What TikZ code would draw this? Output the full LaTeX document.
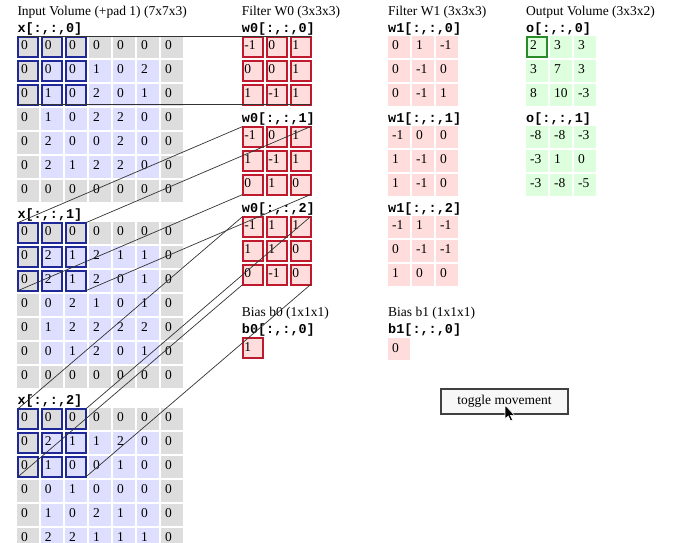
\documentclass[tikz,border=0pt]{standalone}
\usepackage{fontspec}
\setmainfont{Liberation Serif}
\setmonofont{Liberation Mono}
\newcommand\cvfs{\fontsize{13.5}{16}\selectfont}
\newcommand\cvlbl{\ttfamily\bfseries\fontsize{13.5}{16}\selectfont}
\definecolor{padgray}{RGB}{221,221,221}
\definecolor{inlav}{RGB}{222,222,255}
\definecolor{winblue}{RGB}{30,40,150}
\definecolor{wpink}{RGB}{255,221,221}
\definecolor{wred}{RGB}{190,25,45}
\definecolor{ogreen}{RGB}{221,255,221}
\definecolor{obord}{RGB}{40,140,40}
\begin{document}
\begin{tikzpicture}[x=1pt,y=-1pt,
  cellA/.style={rectangle, inner sep=0pt, outer sep=0pt, minimum size=22pt, draw=none},
  cellB/.style={rectangle, inner sep=0pt, outer sep=0pt, minimum size=20pt, line width=2pt},
  num/.style={anchor=base west, inner sep=0pt, font=\cvfs},
  lab/.style={anchor=base west, inner sep=0pt, font=\cvlbl},
  ttl/.style={anchor=base west, inner sep=0pt, font=\cvfs},
  conn/.style={draw=black!80, line width=0.7pt}]
\useasboundingbox (0,0) rectangle (686,542);
\clip (0,0) rectangle (686,542);
\fill[white] (0,0) rectangle (686,542);

% titles
\node[ttl] (tin) at (17.3,15) {Input Volume (+pad 1) (7x7x3)};
\node[ttl] (tw0) at (241.7,15) {Filter W0 (3x3x3)};
\node[ttl] (tw1) at (388,15) {Filter W1 (3x3x3)};
\node[ttl] (tout) at (526,15) {Output Volume (3x3x2)};

% input labels
\node[lab] (lx0) at (17.3,32) {x[:,:,0]};
\node[lab] (lx1) at (17.3,218) {x[:,:,1]};
\node[lab] (lx2) at (17.3,404) {x[:,:,2]};

% input volume
\foreach \k/\vals in {
 0/{0,0,0,0,0,0,0, 0,0,0,1,0,2,0, 0,1,0,2,0,1,0, 0,1,0,2,2,0,0, 0,2,0,0,2,0,0, 0,2,1,2,2,0,0, 0,0,0,0,0,0,0},
 1/{0,0,0,0,0,0,0, 0,2,1,2,1,1,0, 0,2,1,2,0,1,0, 0,0,2,1,0,1,0, 0,1,2,2,2,2,0, 0,0,1,2,0,1,0, 0,0,0,0,0,0,0},
 2/{0,0,0,0,0,0,0, 0,2,1,1,2,0,0, 0,1,0,0,1,0,0, 0,0,1,0,0,0,0, 0,1,0,2,1,0,0, 0,2,2,1,1,1,0, 0,0,0,0,0,0,0}}{
  \foreach \v [count=\i from 0] in \vals {
    \pgfmathtruncatemacro\r{\i/7}
    \pgfmathtruncatemacro\c{mod(\i,7)}
    \pgfmathtruncatemacro\pad{(\r==0)||(\r==6)||(\c==0)||(\c==6)}
    \pgfmathtruncatemacro\win{(\r<3)&&(\c<3)}
    \pgfmathsetmacro\cx{17.3+24*\c+11}
    \pgfmathsetmacro\cy{35.5+186*\k+24*\r+11}
    \ifnum\pad=1 \def\fc{padgray}\else\def\fc{inlav}\fi
    \ifnum\win=1
      \node[cellB, fill=\fc, draw=winblue] (x\k-\r-\c) at (\cx,\cy) {};
    \else
      \node[cellA, fill=\fc] (x\k-\r-\c) at (\cx,\cy) {};
    \fi
    \node[num] (xt\k-\r-\c) at (\cx-7.5,\cy+3) {\v};
  }
}

% filter W0
\node[lab] (lw00) at (241.7,32) {w0[:,:,0]};
\node[lab] (lw01) at (241.7,122) {w0[:,:,1]};
\node[lab] (lw02) at (241.7,212) {w0[:,:,2]};
\foreach \k/\vals in {0/{-1,0,1,0,0,1,1,-1,1},1/{-1,0,1,1,-1,1,0,1,0},2/{-1,1,1,1,1,0,0,-1,0}}{
  \foreach \v [count=\i from 0] in \vals {
    \pgfmathtruncatemacro\r{\i/3}
    \pgfmathtruncatemacro\c{mod(\i,3)}
    \pgfmathsetmacro\cx{241.7+24*\c+11}
    \pgfmathsetmacro\cy{35.5+90*\k+24*\r+11}
    \node[cellB, fill=wpink, draw=wred] (w\k-\r-\c) at (\cx,\cy) {};
    \node[num] (wt\k-\r-\c) at (\cx-8.5,\cy+3) {\v};
  }
}

% filter W1
\node[lab] (lv0) at (388,32) {w1[:,:,0]};
\node[lab] (lv1) at (388,122) {w1[:,:,1]};
\node[lab] (lv2) at (388,212) {w1[:,:,2]};
\foreach \k/\vals in {0/{0,1,-1,0,-1,0,0,-1,1},1/{-1,0,0,1,-1,0,1,-1,0},2/{-1,1,-1,0,-1,-1,1,0,0}}{
  \foreach \v [count=\i from 0] in \vals {
    \pgfmathtruncatemacro\r{\i/3}
    \pgfmathtruncatemacro\c{mod(\i,3)}
    \pgfmathsetmacro\cx{388+24*\c+11}
    \pgfmathsetmacro\cy{35.5+90*\k+24*\r+11}
    \node[cellA, fill=wpink] (v\k-\r-\c) at (\cx,\cy) {};
    \node[num] (vt\k-\r-\c) at (\cx-7,\cy+3) {\v};
  }
}

% output volume
\node[lab] (lo0) at (526,32) {o[:,:,0]};
\node[lab] (lo1) at (526,122) {o[:,:,1]};
\foreach \k/\vals in {0/{2,3,3,3,7,3,8,10,-3},1/{-8,-8,-3,-3,1,0,-3,-8,-5}}{
  \foreach \v [count=\i from 0] in \vals {
    \pgfmathtruncatemacro\r{\i/3}
    \pgfmathtruncatemacro\c{mod(\i,3)}
    \pgfmathtruncatemacro\first{(\k==0)&&(\i==0)}
    \pgfmathsetmacro\cx{526+24*\c+11}
    \pgfmathsetmacro\cy{35.5+90*\k+24*\r+11}
    \ifnum\first=1
      \node[cellB, fill=ogreen, draw=obord] (o\k-\r-\c) at (\cx,\cy) {};
    \else
      \node[cellA, fill=ogreen] (o\k-\r-\c) at (\cx,\cy) {};
    \fi
    \node[num] (ot\k-\r-\c) at (\cx-7,\cy+3) {\v};
  }
}

% biases
\node[ttl] (tb0) at (241.7,316) {Bias b0 (1x1x1)};
\node[lab] (lb0) at (241.7,333) {b0[:,:,0]};
\node[cellB, fill=wpink, draw=wred] (b0c) at (252.7,348) {};
\node[num] (b0t) at (244.2,351) {1};
\node[ttl] (tb1) at (388,316) {Bias b1 (1x1x1)};
\node[lab] (lb1) at (388,333) {b1[:,:,0]};
\node[cellA, fill=wpink] (b1c) at (399,349) {};
\node[num] (b1t) at (392,352) {0};

% connectors
\foreach \k in {0,1,2}{
  \draw[conn] (x\k-0-0.north west) -- (w\k-0-0.north west);
  \draw[conn] (x\k-0-2.north east) -- (w\k-0-2.north east);
  \draw[conn] (x\k-2-0.south west) -- (w\k-2-0.south west);
  \draw[conn] (x\k-2-2.south east) -- (w\k-2-2.south east);
}

% toggle button
\node[draw=black!75, line width=1.6pt, fill=black!3, minimum width=127pt, minimum height=25pt, inner sep=0pt, font=\cvfs] (tog) at (504.5,401.5) {toggle movement};
\filldraw[fill=black, draw=white, line width=0.6pt] (505,405) -- (505,419) -- (508.3,416) -- (510.6,421) -- (512.6,420) -- (510.4,415.3) -- (514.5,415.3) -- cycle;
\end{tikzpicture}
\end{document}
